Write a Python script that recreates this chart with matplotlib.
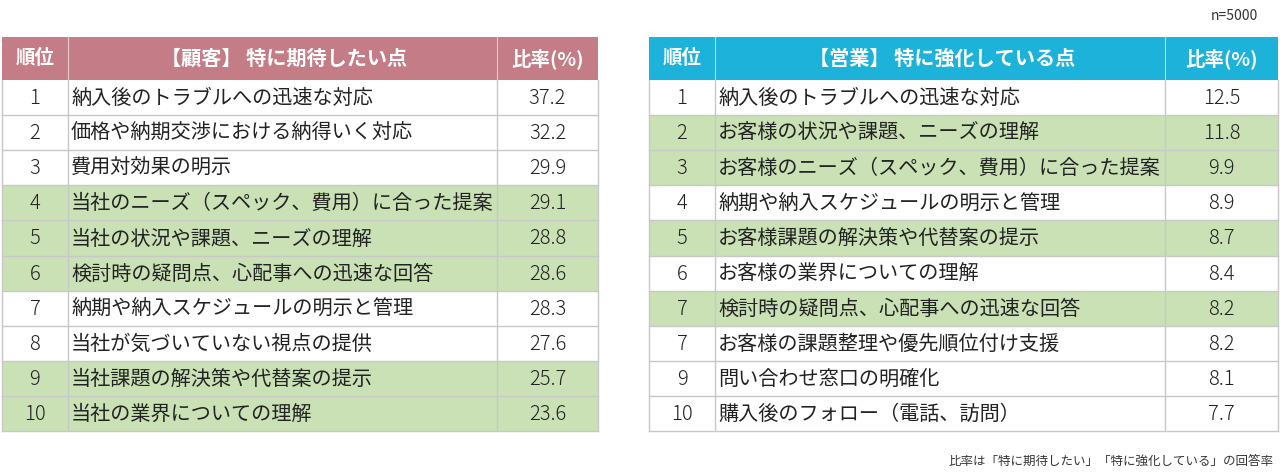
import matplotlib.pyplot as plt
from matplotlib.patches import Rectangle

plt.rcParams['font.family'] = ['Noto Sans CJK JP', 'DejaVu Sans']

# Data
left_title = '【顧客】 特に期待したい点'
left_ranks = ['1', '2', '3', '4', '5', '6', '7', '8', '9', '10']
left_items = [
    '納入後のトラブルへの迅速な対応',
    '価格や納期交渉における納得いく対応',
    '費用対効果の明示',
    '当社のニーズ（スペック、費用）に合った提案',
    '当社の状況や課題、ニーズの理解',
    '検討時の疑問点、心配事への迅速な回答',
    '納期や納入スケジュールの明示と管理',
    '当社が気づいていない視点の提供',
    '当社課題の解決策や代替案の提示',
    '当社の業界についての理解',
]
left_values = [37.2, 32.2, 29.9, 29.1, 28.8, 28.6, 28.3, 27.6, 25.7, 23.6]
left_common = [False, False, False, True, True, True, False, False, True, True]

right_title = '【営業】 特に強化している点'
right_ranks = ['1', '2', '3', '4', '5', '6', '7', '7', '9', '10']
right_items = [
    '納入後のトラブルへの迅速な対応',
    'お客様の状況や課題、ニーズの理解',
    'お客様のニーズ（スペック、費用）に合った提案',
    '納期や納入スケジュールの明示と管理',
    'お客様課題の解決策や代替案の提示',
    'お客様の業界についての理解',
    '検討時の疑問点、心配事への迅速な回答',
    'お客様の課題整理や優先順位付け支援',
    '問い合わせ窓口の明確化',
    '購入後のフォロー（電話、訪問）',
]
right_values = [12.5, 11.8, 9.9, 8.9, 8.7, 8.4, 8.2, 8.2, 8.1, 7.7]
right_common = [False, True, True, False, True, False, True, False, False, False]

rank_header = '順位'
value_header = '比率(%)'

HIGHLIGHT = '#c9e1b5'
GRID = '#c8c8c8'
BODY_FS = 14.5


def draw_table(ax, x0, widths, head_color, title, ranks, items, values, common):
    top, head_h, row_h = 37, 43, 35.1
    edges = [x0, x0 + widths[0], x0 + widths[0] + widths[1], x0 + sum(widths)]
    total_w = sum(widths)

    # header
    ax.add_patch(Rectangle((x0, top), total_w, head_h, facecolor=head_color,
                           edgecolor='none'))
    for xe in edges[1:-1]:
        ax.plot([xe, xe], [top, top + head_h], color='white', lw=0.8, alpha=0.6)
    hy = top + head_h / 2
    ax.text((edges[0] + edges[1]) / 2, hy, rank_header, color='white',
            fontsize=14, fontweight='bold', ha='center', va='center')
    ax.text((edges[1] + edges[2]) / 2 + 2, hy, title, color='white',
            fontsize=14.5, fontweight='bold', ha='center', va='center')
    ax.text((edges[2] + edges[3]) / 2, hy, value_header, color='white',
            fontsize=14, fontweight='bold', ha='center', va='center')

    # body rows
    y = top + head_h
    for i in range(len(items)):
        fc = HIGHLIGHT if common[i] else 'white'
        ax.add_patch(Rectangle((x0, y), total_w, row_h, facecolor=fc,
                               edgecolor='none'))
        cy = y + row_h / 2 + 1
        ax.text((edges[0] + edges[1]) / 2, cy, ranks[i], color='#222222',
                fontsize=BODY_FS, ha='center', va='center', fontweight='light')
        ax.text(edges[1] + 3, cy, items[i], color='#222222',
                fontsize=BODY_FS, ha='left', va='center')
        ax.text((edges[2] + edges[3]) / 2, cy, f'{values[i]:.1f}', color='#222222',
                fontsize=BODY_FS, ha='center', va='center', fontweight='light')
        y += row_h
        ax.plot([x0, x0 + total_w], [y, y], color=GRID, lw=1)
    bottom = y

    # vertical grid lines for body
    for xe in edges:
        ax.plot([xe, xe], [top + head_h, bottom], color=GRID, lw=1)


fig = plt.figure(figsize=(12.8, 4.74), dpi=100)
ax = fig.add_axes([0, 0, 1, 1])
ax.set_xlim(0, 1280)
ax.set_ylim(474, 0)
ax.axis('off')

draw_table(ax, 2, [66, 429, 101], '#c47c86', left_title,
           left_ranks, left_items, left_values, left_common)
draw_table(ax, 649, [66, 450, 113], '#1db2da', right_title,
           right_ranks, right_items, right_values, right_common)

ax.text(1258, 16, 'n=5000', fontsize=10, ha='right', va='center', color='#333333')
ax.text(1274, 461, '比率は「特に期待したい」「特に強化している」の回答率',
        fontsize=9, ha='right', va='center', color='#333333')

fig.savefig('out.png', dpi=100)
